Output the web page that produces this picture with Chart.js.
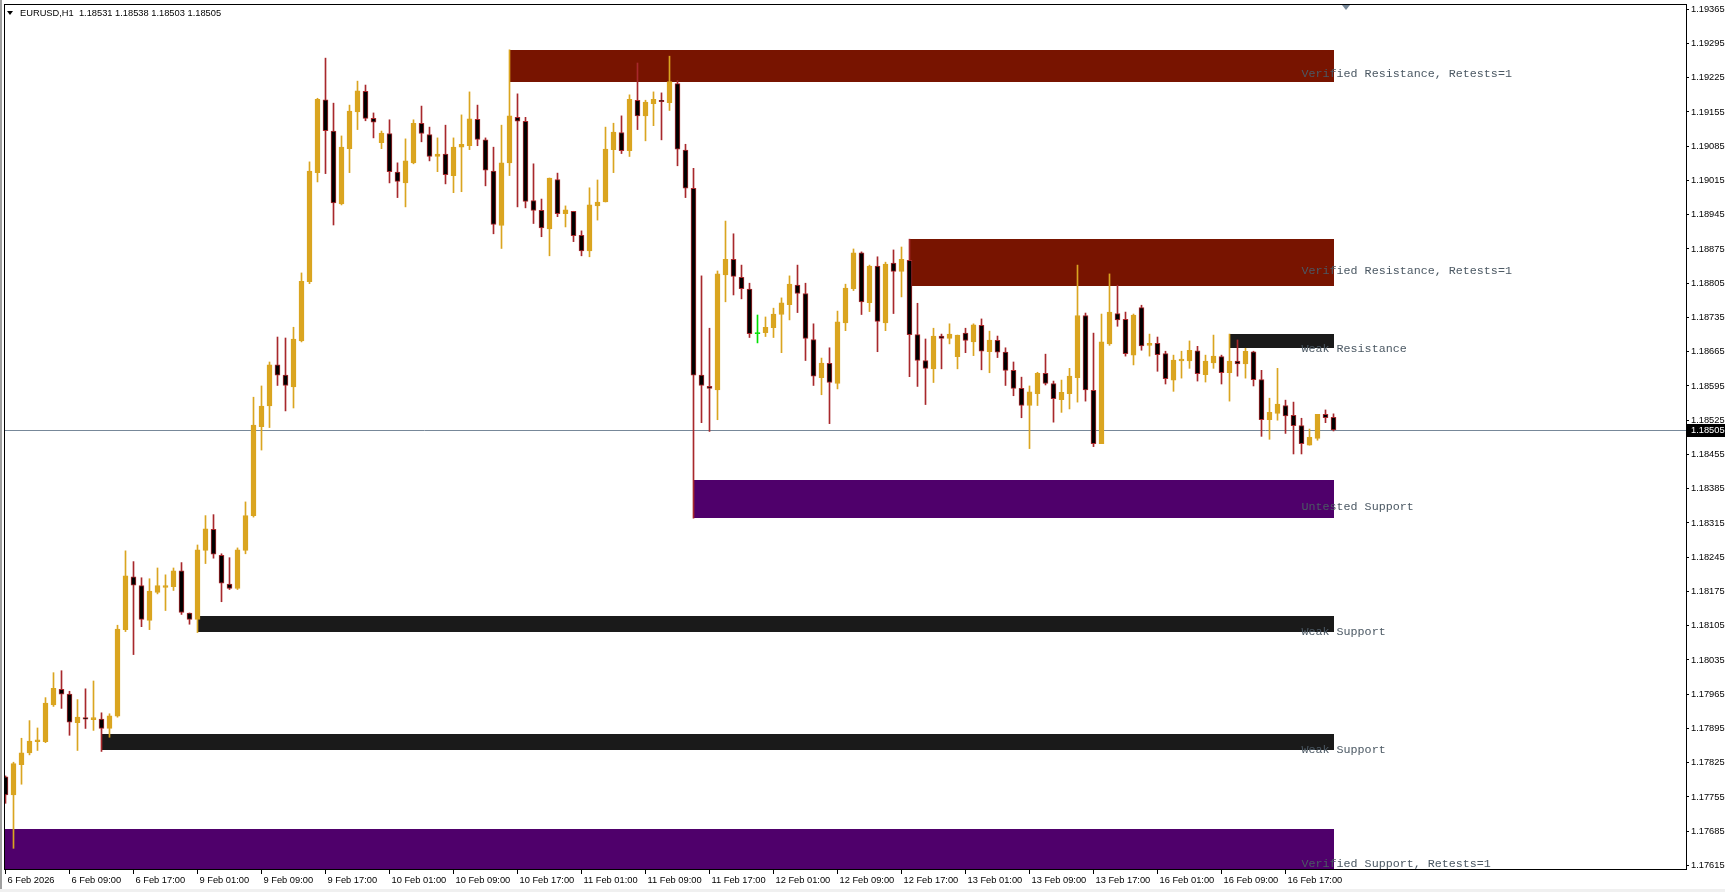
<!DOCTYPE html>
<html><head><meta charset="utf-8">
<script src="https://cdn.jsdelivr.net/npm/chart.js@4.4.1/dist/chart.umd.min.js"></script>
<style>html,body{margin:0;padding:0;background:#fff;overflow:hidden}canvas{display:block}</style>
</head><body>
<canvas id="c" width="1725" height="892"></canvas>
<script>
const symbolName = 'EURUSD';
const periodName = 'H1';

const timeLabels = ['6 Feb 2026','6 Feb 09:00','6 Feb 17:00','9 Feb 01:00','9 Feb 09:00','9 Feb 17:00','10 Feb 01:00','10 Feb 09:00','10 Feb 17:00','11 Feb 01:00','11 Feb 09:00','11 Feb 17:00','12 Feb 01:00','12 Feb 09:00','12 Feb 17:00','13 Feb 01:00','13 Feb 09:00','13 Feb 17:00','16 Feb 01:00','16 Feb 09:00','16 Feb 17:00'];
const timeLabelIndex = [0,8,16,24,32,40,48,56,64,72,80,88,96,104,112,120,128,136,144,152,160];

const priceTicks = [1.19365,1.19295,1.19225,1.19155,1.19085,1.19015,1.18945,1.18875,1.18805,1.18735,1.18665,1.18595,1.18525,1.18455,1.18385,1.18315,1.18245,1.18175,1.18105,1.18035,1.17965,1.17895,1.17825,1.17755,1.17685,1.17615];
const priceMax = 1.1937565;
const priceMin = 1.1760775;

const openP = [
1.17796,1.17759,1.17821,1.17845,1.17868,1.17868,1.17943,1.17975,1.17965,1.17907,
1.17917,1.17913,1.17914,1.17895,1.17920,1.18097,1.18205,1.18187,1.18116,1.18173,
1.18183,1.18185,1.18217,1.18131,1.18118,1.18259,1.18302,1.18249,1.18190,1.18181,
1.18259,1.18330,1.18512,1.18554,1.18638,1.18617,1.18593,1.18687,1.18808,1.19031,
1.19180,1.19116,1.18967,1.19080,1.19155,1.19197,1.19142,1.19092,1.19111,1.19032,
1.19010,1.19051,1.19132,1.19109,1.19064,1.19069,1.19025,1.19083,1.19086,1.19140,
1.19098,1.19034,1.18923,1.19051,1.19144,1.19136,1.18974,1.18954,1.18916,1.19017,
1.18947,1.18952,1.18903,1.18871,1.18963,1.18971,1.19078,1.19113,1.19076,1.19179,
1.19147,1.19172,1.19179,1.19174,1.19213,1.19077,1.18999,1.18617,1.18594,1.18587,
1.18822,1.18854,1.18817,1.18793,1.18702,1.18704,1.18714,1.18741,1.18761,1.18801,
1.18784,1.18690,1.18612,1.18641,1.18600,1.18724,1.18794,1.18867,1.18765,1.18840,
1.18724,1.18846,1.18829,1.18852,1.18700,1.18647,1.18630,1.18697,1.18692,1.18655,
1.18703,1.18685,1.18719,1.18665,1.18688,1.18664,1.18627,1.18590,1.18555,1.18579,
1.18621,1.18600,1.18567,1.18579,1.18612,1.18739,1.18586,1.18477,1.18681,1.18743,
1.18731,1.18658,1.18755,1.18678,1.18682,1.18661,1.18607,1.18646,1.18646,1.18667,
1.18618,1.18642,1.18655,1.18622,1.18646,1.18640,1.18665,1.18608,1.18526,1.18539,
1.18555,1.18535,1.18514,1.18474,1.18488,1.18537,1.18531];
const highP = [
1.17798,1.17826,1.17875,1.17911,1.17896,1.17958,1.18009,1.18013,1.17971,1.17954,
1.17976,1.17992,1.17927,1.17925,1.18106,1.18258,1.18236,1.18203,1.18201,1.18223,
1.18209,1.18223,1.18234,1.18131,1.18270,1.18330,1.18332,1.18252,1.18244,1.18264,
1.18358,1.18572,1.18595,1.18644,1.18695,1.18693,1.18715,1.18826,1.19053,1.19183,
1.19265,1.19173,1.19106,1.19169,1.19218,1.19210,1.19153,1.19116,1.19139,1.19051,
1.19100,1.19139,1.19167,1.19124,1.19102,1.19128,1.19102,1.19149,1.19196,1.19169,
1.19102,1.19083,1.19128,1.19282,1.19192,1.19144,1.19049,1.18977,1.19020,1.19030,
1.18963,1.18952,1.18912,1.19000,1.19016,1.19124,1.19132,1.19147,1.19190,1.19255,
1.19179,1.19196,1.19194,1.19269,1.19219,1.19089,1.19040,1.18820,1.18713,1.18830,
1.18932,1.18906,1.18842,1.18805,1.18740,1.18736,1.18754,1.18775,1.18820,1.18842,
1.18805,1.18722,1.18652,1.18673,1.18748,1.18803,1.18875,1.18869,1.18842,1.18859,
1.18848,1.18873,1.18879,1.18895,1.18764,1.18691,1.18713,1.18701,1.18722,1.18699,
1.18713,1.18722,1.18732,1.18707,1.18697,1.18673,1.18644,1.18613,1.18595,1.18623,
1.18660,1.18605,1.18607,1.18631,1.18842,1.18744,1.18703,1.18742,1.18824,1.18801,
1.18746,1.18742,1.18760,1.18701,1.18695,1.18666,1.18658,1.18666,1.18687,1.18676,
1.18658,1.18699,1.18658,1.18701,1.18689,1.18672,1.18666,1.18627,1.18570,1.18631,
1.18566,1.18562,1.18529,1.18507,1.18537,1.18546,1.18538];
const lowP = [
1.17742,1.17650,1.17781,1.17841,1.17850,1.17866,1.17940,1.17936,1.17881,1.17850,
1.17895,1.17891,1.17848,1.17877,1.17918,1.18093,1.18046,1.18103,1.18097,1.18170,
1.18136,1.18177,1.18128,1.18108,1.18091,1.18232,1.18243,1.18154,1.18179,1.18179,
1.18252,1.18327,1.18464,1.18510,1.18596,1.18544,1.18550,1.18685,1.18804,1.19012,
1.19029,1.18924,1.18965,1.19031,1.19119,1.19137,1.19102,1.19080,1.19010,1.18980,
1.18961,1.19049,1.19094,1.19055,1.19033,1.19008,1.18990,1.18992,1.19078,1.19086,
1.19004,1.18906,1.18876,1.19025,1.18961,1.18959,1.18927,1.18900,1.18861,1.18941,
1.18920,1.18890,1.18861,1.18859,1.18934,1.18971,1.19031,1.19070,1.19064,1.19119,
1.19096,1.19127,1.19098,1.19158,1.19045,1.18980,1.18325,1.18520,1.18502,1.18526,
1.18767,1.18781,1.18773,1.18694,1.18683,1.18696,1.18694,1.18663,1.18730,1.18745,
1.18647,1.18596,1.18577,1.18518,1.18589,1.18708,1.18790,1.18741,1.18747,1.18665,
1.18708,1.18743,1.18777,1.18614,1.18594,1.18557,1.18602,1.18630,1.18681,1.18630,
1.18663,1.18657,1.18628,1.18622,1.18653,1.18596,1.18575,1.18530,1.18467,1.18555,
1.18597,1.18521,1.18541,1.18548,1.18562,1.18564,1.18471,1.18477,1.18678,1.18717,
1.18656,1.18638,1.18668,1.18656,1.18625,1.18599,1.18584,1.18611,1.18631,1.18605,
1.18603,1.18631,1.18599,1.18564,1.18615,1.18611,1.18595,1.18492,1.18486,1.18525,
1.18498,1.18456,1.18456,1.18474,1.18484,1.18520,1.18503];
const closeP = [
1.17759,1.17823,1.17845,1.17869,1.17872,1.17947,1.17977,1.17965,1.17908,1.17918,
1.17914,1.17917,1.17895,1.17921,1.18098,1.18207,1.18188,1.18118,1.18176,1.18187,
1.18187,1.18217,1.18132,1.18118,1.18260,1.18303,1.18251,1.18192,1.18181,1.18260,
1.18330,1.18515,1.18554,1.18638,1.18617,1.18596,1.18691,1.18809,1.19034,1.19181,
1.19117,1.18969,1.19083,1.19157,1.19198,1.19142,1.19134,1.19112,1.19033,1.19013,
1.19055,1.19132,1.19111,1.19064,1.19069,1.19027,1.19083,1.19089,1.19141,1.19099,
1.19036,1.18925,1.19051,1.19147,1.19136,1.18972,1.18954,1.18918,1.19020,1.18947,
1.18955,1.18902,1.18871,1.18965,1.18971,1.19079,1.19114,1.19076,1.19181,1.19147,
1.19175,1.19181,1.19176,1.19217,1.19079,1.18999,1.18617,1.18596,1.18590,1.18824,
1.18854,1.18819,1.18794,1.18702,1.18702,1.18715,1.18742,1.18765,1.18803,1.18784,
1.18692,1.18615,1.18642,1.18602,1.18726,1.18795,1.18867,1.18767,1.18840,1.18727,
1.18844,1.18829,1.18854,1.18700,1.18647,1.18631,1.18697,1.18692,1.18701,1.18699,
1.18688,1.18720,1.18666,1.18689,1.18664,1.18627,1.18590,1.18555,1.18583,1.18621,
1.18600,1.18569,1.18582,1.18615,1.18739,1.18587,1.18477,1.18685,1.18746,1.18730,
1.18661,1.18740,1.18677,1.18682,1.18659,1.18610,1.18648,1.18650,1.18668,1.18620,
1.18646,1.18656,1.18622,1.18646,1.18640,1.18666,1.18608,1.18526,1.18541,1.18558,
1.18534,1.18514,1.18477,1.18490,1.18537,1.18530,1.18505];

const zoneTop    = [1.19282, 1.18895, 1.18701, 1.18403, 1.18125, 1.17884, 1.17689];
const zoneBottom = [1.19217, 1.18800, 1.18673, 1.18325, 1.18093, 1.17850, 1.17580];
const zoneStart  = [63, 113, 153, 86, 24, 12, -30];
const zoneKind   = ['verifiedRes','verifiedRes','weakRes','untestedSup','weakSup','weakSup','verifiedSup'];
const zoneText   = ['Verified Resistance, Retests=1','Verified Resistance, Retests=1','Weak Resistance','Untested Support','Weak Support','Weak Support','Verified Support, Retests=1'];

// ---------- styles ----------
const zoneColors = {verifiedRes:'#781400', weakRes:'#1a1a1a', untestedSup:'#4f006b', weakSup:'#1a1a1a', verifiedSup:'#4f006b'};
const BULL = '#DAA520', BEAR_LINE = '#A8282C', BEAR_FILL = '#000000', DOJI = '#00E000';
const AXIS_FONT = "'Liberation Sans', Arial, sans-serif";
const AXIS_SIZE = 9.3;
const MONO_FONT = "'Liberation Mono', 'DejaVu Sans Mono', monospace";

const lastIndex = closeP.length - 1;
const bodyData = openP.map((o, i) => ({x: i, y: [o, closeP[i]]}));
const wickData = lowP.map((l, i) => ({x: i, y: [l, highP[i]]}));
const kindOf = i => closeP[i] > openP[i] ? 'bull' : (closeP[i] < openP[i] ? 'bear' : 'doji');
const bodyFill = openP.map((o, i) => ({bull: BULL, bear: BEAR_FILL, doji: DOJI})[kindOf(i)]);
const bodyLine = openP.map((o, i) => ({bull: BULL, bear: BEAR_LINE, doji: DOJI})[kindOf(i)]);
const wickColor = openP.map((o, i) => ({bull: BULL, bear: BEAR_LINE, doji: DOJI})[kindOf(i)]);
const tickLabelFor = new Map(timeLabelIndex.map((v, k) => [v, timeLabels[k]]));

const bgPlugin = {
  id: 'bg',
  beforeDraw(chart) {
    const c = chart.ctx;
    c.save();
    c.fillStyle = '#ffffff';
    c.fillRect(0, 0, chart.width, chart.height);
    c.fillStyle = '#a0a0a0';
    c.fillRect(0, 0, 2, chart.height);
    c.fillStyle = '#f0f0f0';
    c.fillRect(0, 889, chart.width, 3);
    c.restore();
  },
  beforeDatasetsDraw(chart) {
    const c = chart.ctx, a = chart.chartArea, xs = chart.scales.x, ys = chart.scales.y;
    c.save();
    c.beginPath(); c.rect(a.left, a.top, a.right - a.left, a.bottom - a.top); c.clip();
    for (let z = 0; z < zoneTop.length; z++) {
      const x1 = xs.getPixelForValue(zoneStart[z]);
      const x2 = xs.getPixelForValue(lastIndex);
      const y1 = ys.getPixelForValue(zoneTop[z]);
      const y2 = ys.getPixelForValue(zoneBottom[z]);
      c.fillStyle = zoneColors[zoneKind[z]];
      c.fillRect(Math.round(x1), Math.round(y1), Math.round(x2) - Math.round(x1), Math.round(y2) - Math.round(y1));
    }
    const py = Math.round(ys.getPixelForValue(closeP[lastIndex])) + 0.5;
    c.strokeStyle = '#778899'; c.lineWidth = 1;
    c.beginPath(); c.moveTo(a.left, py); c.lineTo(a.right, py); c.stroke();
    c.restore();
  },
  afterDraw(chart) {
    const c = chart.ctx, a = chart.chartArea, xs = chart.scales.x, ys = chart.scales.y;
    c.save();
    // zone labels
    c.font = '11.7px ' + MONO_FONT;
    c.fillStyle = '#4b5863';
    c.textBaseline = 'middle'; c.textAlign = 'left';
    for (let z = 0; z < zoneTop.length; z++) {
      const ym = ys.getPixelForValue((zoneTop[z] + zoneBottom[z]) / 2) + 8;
      c.fillText(zoneText[z], xs.getPixelForValue(lastIndex - 4), ym);
    }
    // frame
    c.strokeStyle = '#000'; c.lineWidth = 1;
    c.strokeRect(Math.round(a.left) + 0.5, Math.round(a.top) + 0.5, Math.round(a.right - a.left), Math.round(a.bottom - a.top));
    // current price box
    const py = Math.round(ys.getPixelForValue(closeP[lastIndex]));
    c.fillStyle = '#000';
    c.fillRect(a.right + 1, py - 6, chart.width - a.right - 1, 13);
    c.fillStyle = '#fff';
    c.font = AXIS_SIZE + 'px ' + AXIS_FONT;
    c.fillText(closeP[lastIndex].toFixed(5), a.right + 5, py + 0.5);
    // header
    c.fillStyle = '#000';
    c.beginPath(); c.moveTo(7, 11); c.lineTo(13, 11); c.lineTo(10, 15); c.closePath(); c.fill();
    c.font = AXIS_SIZE + 'px ' + AXIS_FONT;
    c.fillText(symbolName + ',' + periodName + '  ' + [openP[lastIndex], highP[lastIndex], lowP[lastIndex], closeP[lastIndex]].map(v => v.toFixed(5)).join(' '), 20, 13);
    // chart shift marker
    const sx = Math.round(xs.getPixelForValue(lastIndex + 1.5));
    c.fillStyle = '#778899';
    c.beginPath(); c.moveTo(sx - 4, a.top + 1); c.lineTo(sx + 4, a.top + 1); c.lineTo(sx, a.top + 6); c.closePath(); c.fill();
    c.restore();
  }
};

const zeroPad = s => { s.paddingTop = 0; s.paddingBottom = 0; s.paddingLeft = 0; s.paddingRight = 0; };

new Chart(document.getElementById('c'), {
  type: 'bar',
  data: {
    datasets: [
      {label: 'body', data: bodyData, backgroundColor: bodyFill, borderColor: bodyLine, borderWidth: 1,
       borderSkipped: false, barThickness: 5, minBarLength: 1, grouped: false, order: 0},
      {label: 'wick', data: wickData, backgroundColor: wickColor, borderWidth: 0,
       barThickness: 1, minBarLength: 1, grouped: false, order: 1}
    ]
  },
  options: {
    responsive: false, animation: false, devicePixelRatio: 1, events: [],
    layout: {padding: {left: 4, top: 4, right: 0, bottom: 0}},
    plugins: {legend: {display: false}, tooltip: {enabled: false}},
    scales: {
      x: {
        type: 'linear', position: 'bottom', min: -0.1875, max: 210.0625, offset: false,
        grid: {display: true, drawOnChartArea: false, drawTicks: true, tickLength: 5, color: '#000', offset: false},
        border: {display: false},
        ticks: {align: 'start', maxRotation: 0, minRotation: 0, autoSkip: false, padding: 1, labelOffset: 2,
                color: '#000', font: {family: AXIS_FONT, size: AXIS_SIZE},
                callback: v => tickLabelFor.has(v) ? tickLabelFor.get(v) : ''},
        afterBuildTicks: s => { s.ticks = timeLabelIndex.map(v => ({value: v})); },
        afterFit: s => { s.height = 23; zeroPad(s); }
      },
      y: {
        type: 'linear', position: 'right', min: priceMin, max: priceMax, beginAtZero: false,
        grid: {display: true, drawOnChartArea: false, drawTicks: true, tickLength: 3, color: '#000'},
        border: {display: false},
        ticks: {padding: 2, autoSkip: false, color: '#000', font: {family: AXIS_FONT, size: AXIS_SIZE},
                callback: v => Number(v).toFixed(5)},
        afterBuildTicks: s => { s.ticks = priceTicks.map(v => ({value: v})); },
        afterFit: s => { s.width = 39; zeroPad(s); }
      }
    }
  },
  plugins: [bgPlugin]
});
</script>
</body></html>
